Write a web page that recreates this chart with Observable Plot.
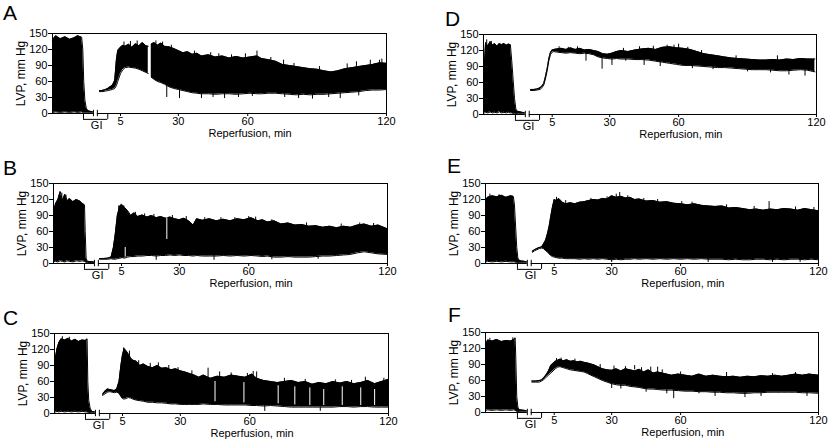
<!DOCTYPE html>
<html><head><meta charset="utf-8">
<script src="https://cdn.jsdelivr.net/npm/d3@7"></script>
<script src="https://cdn.jsdelivr.net/npm/@observablehq/plot@0.6"></script>
<style>
body{margin:0;background:#fff;}
#chart{position:relative;width:830px;height:443px;overflow:hidden;background:#fff;font-family:"Liberation Sans",Arial,sans-serif;}
.letter{position:absolute;font-size:21px;line-height:21px;color:#000;}
</style></head><body><div id="chart"></div>
<script>
// ---- shared axis content ----
const xTicks = [5, 30, 60, 120];
const yTicks = [0, 30, 60, 90, 120, 150];
const xLabel = "Reperfusion, min";
const yLabel = "LVP, mm Hg";
const giLabel = "GI";
const giBracket = [-11, -0.5];
const axisBreak = [-6.7, -5.0];
const giLabelX = -5.3;
const xLabelX = 61;

// ---- traces: [minute, low, high] ----
const A_pre = [[-24.4,2,138],[-23,3,146],[-21,2,140],[-19,3,144],[-17,2,139],[-15,3,142],[-13.5,2,146],[-11.8,3,143],[-11.3,2,120],[-10.9,1,60],[-10.4,1,25],[-9.8,1,10],[-9,1,5],[-8,1,4],[-6.9,1,3]];
const A_rep1 = [[-4.1,41,43],[-3,41,43],[-1.5,42,45],[-0.5,43,47],[0.5,44,50],[1.5,45,53],[2.5,47,62],[3.2,52,100],[3.8,60,118],[5,75,124],[6,82,128],[7,86,126],[8.5,87,130],[10,86,124],[11.5,85,131],[13,83,127],[14.5,80,133],[16,77,127],[17,75,126]];
const A_rep2 = [[18.3,68,130],[19.5,64,133],[21,60,128],[22.5,58,132],[24,55,126],[26,50,125],[28,47,122],[30,45,118],[32,43,114],[34,41,116],[36,39,111],[38,38,113],[40,37,108],[43,37,110],[46,36,106],[49,37,108],[52,37,104],[55,36,107],[58,37,104],[61,38,106],[64,37,108],[66,37,103],[69,38,101],[72,38,98],[75,37,92],[78,36,90],[81,35,88],[84,36,86],[87,35,84],[90,36,83],[93,36,80],[96,37,78],[99,38,80],[102,39,84],[105,40,86],[108,41,88],[111,43,90],[114,44,92],[117,44,95],[120,45,94]];
const A_spikes = [[25,30,60],[30.5,28,50],[50,28,40],[64,100,117],[88,27,40],[100,28,40],[117,85,100],[6.5,120,134],[9.3,120,135],[12.2,118,136],[20.3,120,136],[23.2,118,134],[27,110,128],[37,100,117],[44,100,114],[47.5,98,112],[53,96,110],[59,95,112],[70,92,105],[75.5,85,100],[80,80,94],[91,75,88],[103,78,93],[107,80,97],[113,84,100],[118,86,102],[40,28,40],[45,30,40],[56,30,40],[62,32,40],[76,30,38],[82,28,38],[95,30,40],[108,33,42]];
const A_cuts = [];

const B_pre = [[-24.4,3,98],[-23.5,4,112],[-22.5,3,120],[-21.5,5,135],[-20.5,4,118],[-19.5,3,130],[-18.5,5,117],[-17.5,4,122],[-16,3,116],[-14.5,5,120],[-13,4,117],[-12,5,113],[-11,4,110],[-10.7,3,60],[-10.3,2,10],[-9.8,2,4],[-6.9,2,3]];
const B_rep = [[-4.5,8,9],[-1,8,10],[0.5,9,12],[1.5,8,30],[2.3,8,55],[3.2,9,90],[4.3,10,108],[5.3,11,110],[6.3,10,105],[7.5,12,100],[9,13,90],[10.5,13,95],[12,14,88],[14,14,91],[16,15,87],[18,15,90],[20,14,86],[22,15,88],[24,15,85],[26,16,87],[28,15,84],[30,16,82],[32,15,85],[34,15,80],[36,14,72],[37.5,15,84],[40,14,81],[43,14,84],[46,14,80],[49,15,83],[52,14,80],[55,15,84],[58,14,82],[61,15,86],[64,14,80],[66,13,82],[68,14,78],[71,12,80],[74,12,74],[77,13,76],[80,12,72],[83,12,73],[86,12,70],[89,13,71],[92,14,68],[95,14,70],[98,15,67],[101,16,70],[104,17,68],[107,20,72],[110,22,74],[113,20,70],[116,18,72],[120,17,65]];
const B_spikes = [[5,10,40],[-20.8,110,132],[-19,110,128],[3.8,80,108],[4.8,90,111],[6,90,108],[11,85,96],[15,80,93],[19,80,92],[27,78,90],[33,78,88],[41,75,86],[48,76,86],[54,75,86],[60,78,88],[63,75,87],[70,72,82],[85,65,76],[100,62,74],[108,65,76],[114,65,75],[20,6,15],[45,6,15],[70,7,13],[90,8,14]];
const B_cuts = [[24.6,45,86],[6.6,12,30]];

const C_pre = [[-24.4,3,85],[-24,3,105],[-23.3,4,122],[-22.5,3,133],[-21.5,4,140],[-20,3,138],[-18.5,4,141],[-17,3,136],[-15.5,4,139],[-14,3,135],[-12.5,4,138],[-11,3,137],[-10.3,3,140],[-10,2,60],[-9.6,2,25],[-9,2,10],[-8.3,1,4],[-6.9,1,3]];
const C_rep = [[-3.6,34,36],[-2.5,37,42],[-1.5,40,46],[-0.5,41,45],[0.5,40,44],[1.5,39,43],[2.5,40,46],[3.5,38,60],[4.3,32,90],[5,28,110],[5.7,27,122],[6.5,28,118],[7.5,30,112],[8.5,29,104],[9.5,27,100],[11,25,98],[12.5,24,90],[14,23,93],[16,21,88],[18,21,86],[20,20,90],[22,20,85],[24,19,86],[26,18,82],[28,18,84],[30,17,80],[32,17,78],[34,17,75],[36,17,72],[38,17,68],[40,18,72],[43,17,66],[46,17,70],[49,16,68],[52,16,72],[55,16,70],[58,16,68],[61,15,74],[63,15,66],[66,14,62],[69,15,60],[72,14,58],[75,13,60],[78,12,62],[81,12,58],[84,12,60],[87,12,55],[90,12,58],[93,12,56],[96,12,60],[99,13,57],[102,13,60],[105,12,56],[108,13,58],[111,13,62],[114,12,56],[117,12,60],[120,12,64]];
const C_spikes = [[20.5,60,95],[42,60,85],[63,60,78],[66.5,4,15],[90.5,4,12],[110,60,68],[-21,130,144],[-18,130,143],[5.5,100,123],[8,100,117],[12,85,99],[17,80,94],[25,78,90],[29,75,86],[35,68,80],[47,62,78],[52,65,76],[59,62,75],[61.5,65,79],[75,52,66],[84,52,64],[97,52,63],[104,52,62],[118,55,66]];
const C_cuts = [[45,22,60],[57.5,20,58],[72.3,18,52],[79.5,16,50],[86,15,48],[92,15,45],[100,15,50],[108,15,48],[114,15,45]];

const D_pre = [[-24.9,3,30],[-24.5,3,95],[-24,4,135],[-23,3,128],[-22,5,137],[-21,3,130],[-20,4,133],[-19,3,128],[-18,5,133],[-17,3,131],[-16,4,133],[-15,3,130],[-14,4,132],[-13.2,3,131],[-12.6,3,100],[-12,2,65],[-11.4,2,30],[-10.8,2,10],[-10.2,1,6],[-8,1,4],[-6.9,1,3]];
const D_rep = [[-4.4,45,47],[-3,45,47],[-1.5,46,48],[-0.3,47,50],[0.5,50,53],[1.3,55,58],[2,66,70],[2.8,82,86],[3.5,100,104],[4.2,112,116],[5,117,121],[5.7,118,122],[7,117,123],[9,116,124],[11,115,122],[13,116,125],[15,115,122],[17,114,124],[19,115,121],[21,114,122],[23,112,120],[25,108,118],[27,106,114],[29,105,113],[31,104,115],[33,105,118],[35,104,120],[38,104,118],[41,103,121],[44,103,123],[47,102,124],[50,100,122],[53,98,126],[56,96,127],[59,94,125],[62,92,124],[65,92,122],[68,91,118],[71,90,114],[74,89,112],[77,88,110],[80,88,108],[83,87,106],[86,86,105],[89,85,104],[92,84,103],[95,84,102],[98,84,102],[101,83,103],[104,82,102],[107,82,104],[110,83,103],[113,84,105],[116,83,104],[119.3,80,104]];
const D_spikes = [[19.7,100,118],[26.7,85,110],[31,92,108],[115,72,85],[-22,3,15],[-16.5,3,13],[60,120,132],[-23.5,125,140],[-21.5,128,137],[8,118,127],[12,118,126],[16,118,127],[36,110,124],[43,115,127],[49,112,128],[55,115,130],[58,115,130],[64,110,126],[70,105,120],[85,98,110],[103,95,110],[37,100,105],[45,92,103],[52,90,100],[66,86,92],[75,84,90],[90,80,86],[100,78,84],[108,74,84]];
const D_cuts = [];

const E_pre = [[-24.7,3,120],[-24,4,124],[-22,3,127],[-20,4,125],[-18,3,128],[-16,4,124],[-14,3,127],[-12.8,3,126],[-12.3,3,110],[-11.8,2,70],[-11.3,2,30],[-10.8,2,10],[-10,1,5],[-8,1,4],[-6.9,1,3]];
const E_rep = [[-4.5,21,23],[-3.5,24,26],[-2.5,26,28],[-1.5,28,30],[-0.5,29,31],[0.3,28,36],[1.3,24,44],[2.2,21,58],[2.8,18,70],[3.5,15,88],[4.2,13,105],[5,12,120],[6,11,118],[7,10,122],[8.5,10,115],[10,9,112],[12,9,114],[14,9,112],[16,8,115],[18,9,116],[20,8,118],[22,9,120],[24,8,119],[26,9,122],[28,8,121],[30,7,127],[32,8,124],[34,7,126],[36,8,123],[38,8,124],[40,9,120],[42,8,121],[45,9,117],[48,8,118],[51,9,115],[54,8,116],[57,9,113],[60,8,112],[63,9,110],[66,8,112],[69,9,109],[72,8,108],[75,8,107],[78,8,108],[81,7,104],[84,8,105],[87,7,103],[90,7,101],[93,8,102],[96,8,100],[99,7,102],[102,8,101],[105,7,103],[108,8,102],[111,8,100],[114,7,103],[117,8,101],[120,7,99]];
const E_spikes = [[33.5,120,133],[98.5,100,116],[60.5,108,116],[30,2,10],[72,2,10],[100,2,10],[112,2,10],[-23,120,130],[-19,120,129],[6,110,124],[10,110,118],[21,110,122],[28,115,125],[32,118,130],[37,115,127],[44,112,122],[50,110,120],[65,105,115],[80,100,110],[92,95,107],[110,95,106],[118,95,105]];
const E_cuts = [];

const F_pre = [[-24.7,4,128],[-24,5,136],[-22,4,134],[-20,5,137],[-18,4,133],[-16,5,135],[-14,4,134],[-12.5,5,137],[-12,4,140],[-11.7,3,100],[-11.3,2,30],[-10.8,2,10],[-10.2,1,5],[-8,1,4],[-6.9,1,3]];
const F_rep = [[-4.7,57,59],[-3,57,59],[-1.5,57,60],[-0.5,59,61],[0.5,62,65],[1.5,66,71],[2.5,70,78],[3.5,74,88],[4.5,78,92],[5.5,82,96],[6.5,85,98],[7.5,86,100],[9,84,97],[10.5,82,99],[12,80,96],[13.5,79,97],[15,78,95],[16.5,77,96],[18,76,94],[19.5,73,93],[21,70,91],[22.5,67,89],[24,64,86],[26,60,82],[28,57,80],[30,54,79],[32,52,82],[34,51,78],[36,51,82],[38,49,80],[40,48,78],[42,47,81],[44,45,76],[46,44,80],[48,44,74],[50,43,76],[53,42,73],[56,42,70],[59,41,72],[62,40,70],[65,40,68],[68,39,72],[71,39,68],[74,38,70],[77,38,68],[80,37,67],[83,37,68],[86,36,66],[89,36,68],[92,37,67],[95,37,69],[98,38,68],[101,38,70],[104,38,68],[107,38,70],[110,38,72],[113,37,70],[116,37,72],[120,36,70]];
const F_spikes = [[34,44,60],[37.5,50,60],[57,26,45],[68,35,45],[40,80,88],[50,75,85],[95,30,40],[-23,128,139],[-13,128,140],[6,90,101],[8,90,102],[14,88,100],[25,80,90],[31,75,87],[36,72,86],[43,70,84],[47,70,85],[52,68,80],[60,65,76],[80,62,75],[100,62,73],[110,65,75],[30,45,55],[45,38,46],[54,35,44],[75,30,40],[88,28,38],[115,30,38]];
const F_cuts = [];

// ---- panel layout ----
const panels = [
  {letter:"A", pre:A_pre, rep:[A_rep1, A_rep2], spikes:A_spikes, cuts:A_cuts, left:0, top:0, w:400, mt:33, ml:52, mr:14, dom:[-24.4,120], lx:3, ly:2},
  {letter:"B", pre:B_pre, rep:[B_rep], spikes:B_spikes, cuts:B_cuts, left:0, top:150, w:400, mt:33, ml:53, mr:13, dom:[-24.4,120], lx:3, ly:157},
  {letter:"C", pre:C_pre, rep:[C_rep], spikes:C_spikes, cuts:C_cuts, left:0, top:300, w:400, mt:33, ml:54, mr:12, dom:[-24.4,120], lx:3, ly:307},
  {letter:"D", pre:D_pre, rep:[D_rep], spikes:D_spikes, cuts:D_cuts, left:415, top:0, w:415, mt:34, ml:68, mr:14, dom:[-24.9,120], lx:445, ly:8},
  {letter:"E", pre:E_pre, rep:[E_rep], spikes:E_spikes, cuts:E_cuts, left:415, top:150, w:415, mt:33, ml:70, mr:12, dom:[-24.9,120], lx:447, ly:155},
  {letter:"F", pre:F_pre, rep:[F_rep], spikes:F_spikes, cuts:F_cuts, left:415, top:300, w:415, mt:32, ml:70, mr:12, dom:[-24.9,120], lx:448, ly:304}
];

const chart = document.getElementById("chart");
const X = d => d[0], LO = d => d[1], HI = d => d[2];

for (const p of panels) {
  const segs = [p.pre, ...p.rep];
  const H = p.mt + 80 + 32;
  const svg = Plot.plot({
    width: p.w, height: H,
    marginLeft: p.ml, marginRight: p.mr, marginTop: p.mt, marginBottom: 32,
    x: {domain: p.dom},
    y: {domain: [0, 150]},
    style: {fontFamily: "'Liberation Sans', Arial, sans-serif", fontSize: "11px", color: "black", background: "transparent", overflow: "visible"},
    marks: [
      ...segs.map(s => Plot.areaY(s, {x: X, y1: LO, y2: HI, fill: "black", curve: "linear"})),
      ...segs.map(s => Plot.line(s, {x: X, y: HI, stroke: "black", strokeWidth: 1})),
      ...segs.map(s => Plot.line(s, {x: X, y: LO, stroke: "black", strokeWidth: 1})),
      Plot.ruleX(p.spikes, {x: X, y1: LO, y2: HI, stroke: "black", strokeWidth: 1}),
      Plot.ruleX(p.cuts, {x: X, y1: LO, y2: HI, stroke: "white", strokeWidth: 1}),
      Plot.frame({stroke: "black"}),
      Plot.ruleY([0], {x1: () => axisBreak[0], x2: () => axisBreak[1], stroke: "white", strokeWidth: 3}),
      Plot.ruleX(axisBreak, {y1: () => -6, y2: () => 6, stroke: "black"}),
      Plot.ruleX(giBracket, {y1: () => 0, y2: () => -11, stroke: "black"}),
      Plot.ruleY([-11], {x1: () => giBracket[0], x2: () => giBracket[1], stroke: "black"}),
      Plot.text([giLabel], {x: () => giLabelX, y: () => -11, dy: 2, lineAnchor: "top", fill: "black"}),
      Plot.axisX({ticks: xTicks, tickSize: 3, tickPadding: 1, label: null}),
      Plot.axisY({ticks: yTicks, tickSize: 4, tickPadding: 1, label: null}),
      Plot.text([yLabel], {frameAnchor: "left", textAnchor: "middle", rotate: -90, dx: -31, fontSize: 12, fill: "black"}),
      Plot.text([xLabel], {x: () => xLabelX, frameAnchor: "bottom", textAnchor: "middle", dy: 23, fill: "black"})
    ]
  });
  svg.style.position = "absolute";
  svg.style.left = p.left + "px";
  svg.style.top = p.top + "px";
  chart.appendChild(svg);
  const L = document.createElement("div");
  L.className = "letter";
  L.textContent = p.letter;
  L.style.left = p.lx + "px";
  L.style.top = p.ly + "px";
  chart.appendChild(L);
}
</script>
</body></html>
